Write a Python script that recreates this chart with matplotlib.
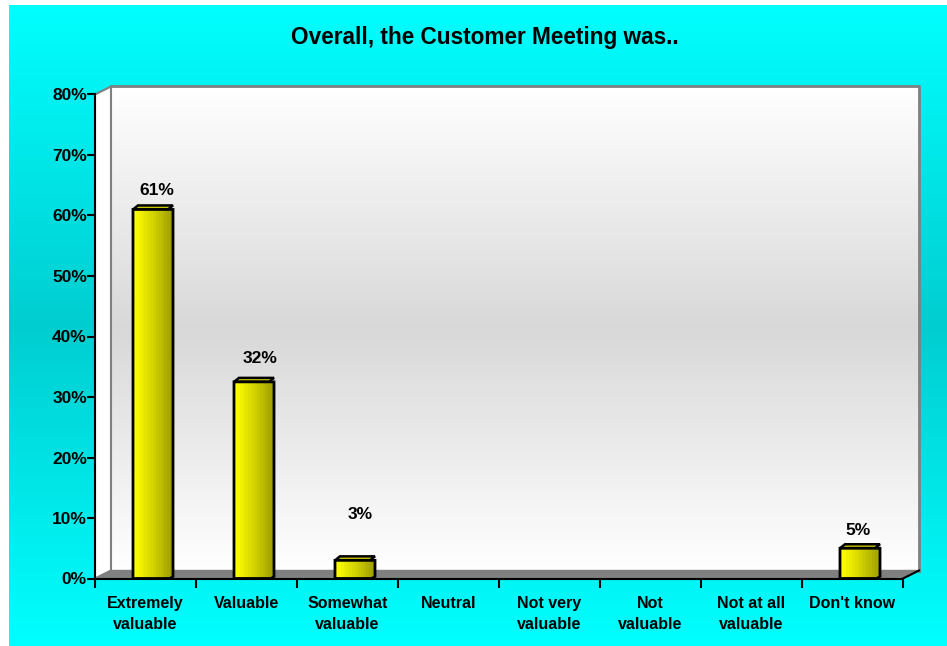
import numpy as np
import matplotlib.pyplot as plt
from matplotlib.colors import LinearSegmentedColormap
from matplotlib.patches import Polygon

# --- DATA ---
TITLE = "Overall, the Customer Meeting was.."
categories = ["Extremely\nvaluable", "Valuable", "Somewhat\nvaluable", "Neutral",
              "Not very\nvaluable", "Not\nvaluable", "Not at all\nvaluable", "Don't know"]
values = [61, 32.5, 3, 0, 0, 0, 0, 5]
value_labels = ["61%", "32%", "3%", "", "", "", "", "5%"]

# where the value labels sit: height in % units, shift in pixels from bar centre
label_heights = [64.2, 36.4, 10.6, 0, 0, 0, 0, 8]
label_shift = [4, 6, 5, 0, 0, 0, 0, -2]
y_ticks = [0, 10, 20, 30, 40, 50, 60, 70, 80]

W, H = 947, 646
plt.rcParams['font.family'] = ['Liberation Sans', 'DejaVu Sans']
fig = plt.figure(figsize=(W / 100, H / 100), dpi=100, facecolor='white')

# cyan page background, darker in the middle
bg = fig.add_axes([9 / W, 0, 1 - 9 / W, 1 - 5 / H], zorder=0)
bg_cmap = LinearSegmentedColormap.from_list('bg', ['#00ffff', '#00cdd0', '#00ffff'])
bg.imshow(np.linspace(0, 1, 256).reshape(-1, 1), cmap=bg_cmap, aspect='auto')
bg.axis('off')

# main axes is the front plane of the fake 3d box
X0, X1 = 95, 903
Y0, Y1 = 578.5, 94.5
ax = fig.add_axes([X0 / W, 1 - Y0 / H, (X1 - X0) / W, (Y0 - Y1) / H], zorder=1)
ax.patch.set_alpha(0)

n = len(categories)
px_x = n / (X1 - X0)
px_y = 80 / (Y0 - Y1)
dx = 16 * px_x  # box depth
dy = 8 * px_y

# back wall, grey band in the middle
wall_cmap = LinearSegmentedColormap.from_list('wall', ['#ffffff', '#d8d8d8', '#ffffff'])
ax.imshow(np.linspace(0, 1, 256).reshape(-1, 1), cmap=wall_cmap, aspect='auto', zorder=1,
          extent=[dx, n + dx, dy, 80 + dy], clip_on=False)

grey = '#808080'
# left wall
ax.add_patch(Polygon([(0, 0), (dx, dy), (dx, 80 + dy), (0, 80)], closed=True, fc='white',
                     ec=grey, lw=1.5, clip_on=False, zorder=2))
# floor
ax.add_patch(Polygon([(0, 0), (dx, dy), (n + dx, dy), (n, 0)], closed=True, fc=grey,
                     ec=grey, lw=1, clip_on=False, zorder=2))
# wall border
ax.plot([dx, n + dx, n + dx], [80 + dy, 80 + dy, dy], color=grey, lw=2, clip_on=False, zorder=2)
ax.plot([n, n + dx], [0, dy], color='black', lw=1.5, clip_on=False, zorder=3)

# bars
bar_cmap = LinearSegmentedColormap.from_list('bar', ['#ffff00', '#d4d400', '#a0a000'])
strip = np.linspace(0, 1, 14).reshape(1, -1)
bar_w = 40 * px_x
cx = 5 * px_x
cy = 4 * px_y
for i, v in enumerate(values):
    if v <= 0:
        continue
    left = i + 0.5 - bar_w / 2 + 7.5 * px_x
    right = left + bar_w
    # top face
    ax.add_patch(Polygon([(left, v), (left + cx, v + cy), (right, v + cy), (right - cx, v)],
                         closed=True, fc='#c8c800', ec='black', lw=1.8, clip_on=False, zorder=3))
    # body with chamfered bottom corner
    ax.imshow(strip, cmap=bar_cmap, aspect='auto', zorder=4,
              extent=[left, right, 0, v], clip_on=False, interpolation='nearest')
    ax.add_patch(Polygon([(left, v), (right, v), (right, 2 * px_y), (right - 3 * px_x, 0),
                          (left, 0)], closed=True, fc='none', ec='black', lw=2,
                         clip_on=False, zorder=5))
    ax.text((left + right) / 2 + label_shift[i] * px_x, label_heights[i], value_labels[i],
            ha='center', va='center', fontsize=12.5, fontweight='bold', color='black', zorder=6)

ax.set_xlim(0, n)
ax.set_ylim(0, 80)

# axes lines and ticks
for side in ['top', 'right']:
    ax.spines[side].set_visible(False)
for side in ['left', 'bottom']:
    ax.spines[side].set_linewidth(1.5)
    ax.spines[side].set_zorder(7)

ax.set_yticks(y_ticks)
ax.set_yticklabels([f"{t}%" for t in y_ticks], fontsize=12.5, fontweight='bold')
ax.set_xticks(np.arange(n + 1))
ax.set_xticklabels([])
ax.tick_params(axis='y', length=5.8, width=1.5, pad=0)
ax.tick_params(axis='x', length=6.5, width=1.5)
for i, cat in enumerate(categories):
    ax.text(i + 0.5, -2.95, cat, ha='center', va='top', fontsize=11.5, fontweight='bold',
            linespacing=1.45, clip_on=False)

fig.text(484.5 / W, 1 - 37.5 / H, TITLE, ha='center', va='center', fontsize=16.3, fontweight='bold')

fig.savefig('out.png', dpi=100)
